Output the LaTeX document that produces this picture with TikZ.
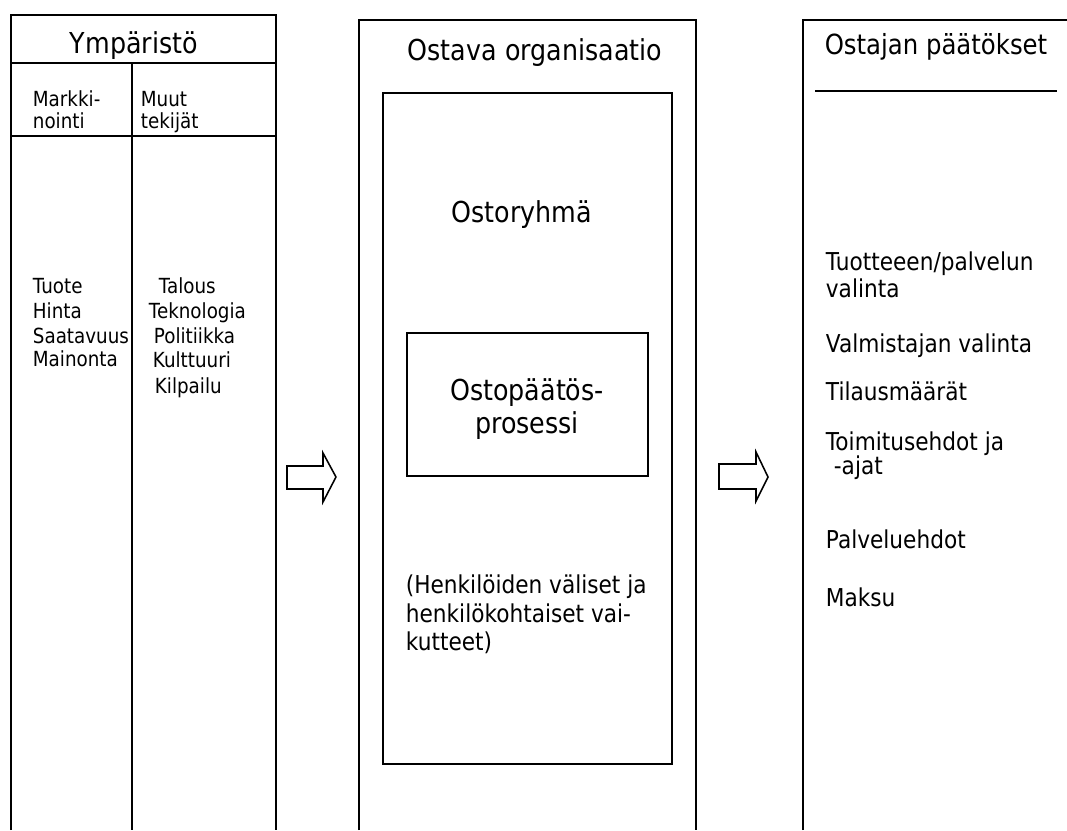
\documentclass[tikz,border=0pt]{standalone}
\usepackage{fontspec}
\setmainfont[FakeStretch=0.88]{DejaVu Sans}
\begin{document}
\begin{tikzpicture}[x=0.025cm, y=-0.025cm, line width=1.3pt,
    head/.style={font=\fontsize{20.5}{24}\selectfont, inner sep=0pt, anchor=base},
    body/.style={font=\fontsize{17.5}{20}\selectfont, inner sep=0pt, anchor=base west},
    small/.style={font=\fontsize{14.8}{17}\selectfont, inner sep=0pt, anchor=base west}]
    \useasboundingbox (0,0) rectangle (1067,830);

    % Ympäristö
    \draw (11,830) -- (11,15) -- (276,15) -- (276,830);
    \draw (11,63) -- (276,63);
    \draw (11,136) -- (276,136);
    \draw (132,63) -- (132,830);
    \node[head] (ymp) at (134,53) {Ympäristö};
    \node[small] (mk1) at (32,106) {Markki-};
    \node[small] (mk2) at (32,128) {nointi};
    \node[small] (mu1) at (140,106) {Muut};
    \node[small] (mu2) at (140,128) {tekijät};
    \foreach \txt/\yy [count=\i] in {Tuote/293, Hinta/318, Saatavuus/343, Mainonta/366} {
        \node[small] (mark\i) at (32,\yy) {\txt};
    }
    \foreach \txt/\xx/\yy [count=\i] in {Talous/158/293, Teknologia/148/318,
        Politiikka/153/343, Kulttuuri/152/367, Kilpailu/154/393} {
        \node[small] (muut\i) at (\xx,\yy) {\txt};
    }

    % Ostava organisaatio
    \draw (359,830) -- (359,20) -- (696,20) -- (696,830);
    \draw (383,93) rectangle (672,764);
    \draw (407,333) rectangle (648,476);
    \node[head] (org) at (535,60) {Ostava organisaatio};
    \node[head] (ryhma) at (522,222) {Ostoryhmä};
    \node[head] (pr1) at (527,400) {Ostopäätös-};
    \node[head] (pr2) at (527,433) {prosessi};
    \foreach \txt/\yy [count=\i] in {{(Henkilöiden väliset ja}/593,
        {henkilökohtaiset vai-}/622, {kutteet)}/650} {
        \node[body] (vaik\i) at (405,\yy) {\txt};
    }

    % Ostajan päätökset
    \draw (803,830) -- (803,20) -- (1067,20);
    \draw (815,91) -- (1057,91);
    \node[head, font=\fontsize{19.7}{23}\selectfont] (paat) at (936,54) {Ostajan päätökset};
    \foreach \txt/\xx/\yy [count=\i] in {{Tuotteeen/palvelun}/825/270, valinta/825/297,
        Valmistajan valinta/825/352, Tilausmäärät/825/400, Toimitusehdot ja/825/450,
        -ajat/833/474, Palveluehdot/825/548, Maksu/825/606} {
        \node[body] (dec\i) at (\xx,\yy) {\txt};
    }

    % nuolet
    \draw[line width=1.1pt] (287,466) -- (323,466) -- (323,453) -- (336,477)
        -- (323,502) -- (323,489) -- (287,489) -- cycle;
    \draw[line width=1.1pt] (719,464) -- (756,464) -- (756,452) -- (768,477)
        -- (756,501) -- (756,489) -- (719,489) -- cycle;
\end{tikzpicture}
\end{document}
